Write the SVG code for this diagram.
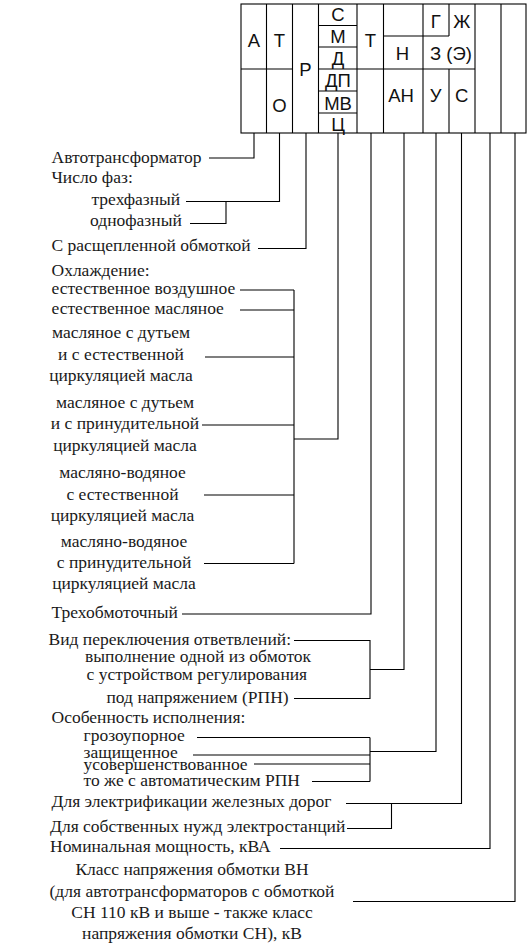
<svg xmlns="http://www.w3.org/2000/svg" width="528" height="947" viewBox="0 0 528 947">
<style>
.t{font-family:"Liberation Serif","Times New Roman",serif;font-size:17.5px;fill:#1a1a1a}
.c{text-anchor:middle}
.h{font-family:"Liberation Sans",Arial,sans-serif;font-size:18.5px;fill:#111;text-anchor:middle}
.ln{fill:none;stroke:#000;stroke-width:1.1}
</style>
<rect width="528" height="947" fill="#fff"/>
<g id="code-table">
<rect class="ln" x="241" y="4" width="285" height="129"/>
<path class="ln" d="M266.5 4V133M292.5 4V133M318.5 4V133M357 4V133M383.5 4V133M423 4V133M449 4V36M449 69V133M475 4V133M501 4V133"/>
<path class="ln" d="M241 69H292.5M318.5 69H475M318.5 25.5H357M318.5 47H357M318.5 91H357M318.5 113H357M383.5 36H449"/>
<g id="cell-A"><text class="h" x="254" y="46.7">А</text></g>
<g id="cell-T"><text class="h" x="279.5" y="46.7">Т</text></g>
<g id="cell-O"><text class="h" x="279.5" y="111.7">О</text></g>
<g id="cell-R"><text class="h" x="305.5" y="76">Р</text></g>
<g id="cell-S"><text class="h" x="338" y="20.7">С</text></g>
<g id="cell-M"><text class="h" x="338" y="42.7">М</text></g>
<g id="cell-D"><text class="h" x="338" y="65">Д</text></g>
<g id="cell-DP"><text class="h" x="338" y="87.3">ДП</text></g>
<g id="cell-MV"><text class="h" x="338" y="110">МВ</text></g>
<g id="cell-Ts"><text class="h" x="338" y="130.7">Ц</text></g>
<g id="cell-T2"><text class="h" x="370.5" y="46.7">Т</text></g>
<g id="cell-N"><text class="h" x="402.5" y="60">Н</text></g>
<g id="cell-AN"><text class="h" x="401" y="101.7">АН</text></g>
<g id="cell-G"><text class="h" x="435.7" y="28.3">Г</text></g>
<g id="cell-Zh"><text class="h" x="461.7" y="28.3">Ж</text></g>
<g id="cell-Z"><text class="h" x="451" y="60">З (Э)</text></g>
<g id="cell-U"><text class="h" x="435.7" y="101.7">У</text></g>
<g id="cell-S2"><text class="h" x="461.7" y="101.7">С</text></g>
</g>
<g id="connectors">
<path class="ln" d="M254 133V158H209"/>
<path class="ln" d="M279.5 133V201.5H186M226 201.5V223.5H190"/>
<path class="ln" d="M306 133V248.5H258"/>
<path class="ln" d="M338 133V439H294M294 290V563.5M240 290H294M240 310H294M205 357H294M202 425H294M204 495H294M204 563.5H294"/>
<path class="ln" d="M371 133V614H182"/>
<path class="ln" d="M294 640.5H370V698.5H294M370 669.5H404V133"/>
<path class="ln" d="M197 737.5H370M193 755H370M254 764H370M312 781.5H370M370 737.5V781.5M370 751.5H436V133"/>
<path class="ln" d="M346 803.5H461.5V133M391.5 803.5V828.5H347"/>
<path class="ln" d="M280 848.5H490V133"/>
<path class="ln" d="M353 901.5H515V133"/>
</g>
<g id="lbl-autotransformer"><text class="t" x="51.5" y="163">Автотрансформатор</text></g>
<g id="lbl-phases">
<text class="t" x="51.5" y="183">Число фаз:</text>
<text class="t" x="91.5" y="205">трехфазный</text>
<text class="t" x="90" y="226">однофазный</text>
</g>
<g id="lbl-split"><text class="t" x="51.5" y="251">С расщепленной обмоткой</text></g>
<g id="lbl-cooling">
<text class="t" x="51.5" y="276">Охлаждение:</text>
<text class="t" x="51.5" y="293.5">естественное воздушное</text>
<text class="t" x="51.5" y="313.5">естественное масляное</text>
<text class="t c" x="121" y="338">масляное с дутьем</text>
<text class="t c" x="121" y="359.5">и с естественной</text>
<text class="t c" x="121" y="381">циркуляцией масла</text>
<text class="t c" x="125" y="407.5">масляное с дутьем</text>
<text class="t c" x="125" y="429">и с принудительной</text>
<text class="t c" x="125" y="451">циркуляцией масла</text>
<text class="t c" x="122.5" y="477.5">масляно-водяное</text>
<text class="t c" x="122.5" y="499.5">с естественной</text>
<text class="t c" x="122.5" y="520.5">циркуляцией масла</text>
<text class="t c" x="124" y="547">масляно-водяное</text>
<text class="t c" x="124" y="568">с принудительной</text>
<text class="t c" x="124" y="589">циркуляцией масла</text>
</g>
<g id="lbl-three-winding"><text class="t" x="51.5" y="618">Трехобмоточный</text></g>
<g id="lbl-tap">
<text class="t" x="48.5" y="645">Вид переключения ответвлений:</text>
<text class="t" x="85" y="662">выполнение одной из обмоток</text>
<text class="t" x="86.5" y="680">с устройством регулирования</text>
<text class="t" x="106.5" y="703">под напряжением (РПН)</text>
</g>
<g id="lbl-design">
<text class="t" x="51.5" y="723">Особенность исполнения:</text>
<text class="t" x="83.5" y="741">грозоупорное</text>
<text class="t" x="83.5" y="757.5">защищенное</text>
<text class="t" x="83.5" y="770">усовершенствованное</text>
<text class="t" x="83.5" y="785.5">то же с автоматическим РПН</text>
</g>
<g id="lbl-rail"><text class="t" x="51.5" y="807">Для электрификации железных дорог</text></g>
<g id="lbl-aux"><text class="t" x="50" y="831.5">Для собственных нужд электростанций</text></g>
<g id="lbl-power"><text class="t" x="50" y="851.5">Номинальная мощность, кВА</text></g>
<g id="lbl-voltage">
<text class="t c" x="192" y="875">Класс напряжения обмотки ВН</text>
<text class="t c" x="192" y="897">(для автотрансформаторов с обмоткой</text>
<text class="t c" x="192" y="918">СН 110 кВ и выше - также класс</text>
<text class="t c" x="192" y="938.5">напряжения обмотки СН), кВ</text>
</g>
</svg>
